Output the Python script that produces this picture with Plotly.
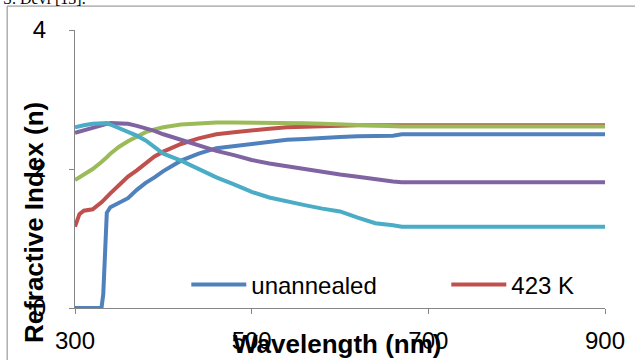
import plotly.graph_objects as go

wavelength = [300, 305, 310, 320, 330, 332, 336, 340, 350, 360, 370, 380, 390, 400,
              420, 440, 460, 480, 500, 520, 540, 560, 580, 600, 620, 640, 660, 670,
              700, 750, 800, 850, 900]

unannealed = [0, 0, 0, 0, 0, 0.2, 1.37, 1.45, 1.52, 1.58, 1.7, 1.8, 1.88, 1.97,
              2.12, 2.22, 2.3, 2.33, 2.37, 2.4, 2.42, 2.43, 2.45, 2.46, 2.47, 2.47, 2.48, 2.5,
              2.5, 2.5, 2.5, 2.5, 2.5]
k423 = [1.17, 1.35, 1.4, 1.42, 1.52, 1.55, 1.6, 1.65, 1.77, 1.89, 1.98, 2.08, 2.18, 2.25,
        2.36, 2.44, 2.5, 2.53, 2.56, 2.58, 2.6, 2.61, 2.62, 2.62, 2.63, 2.63, 2.63, 2.63,
        2.63, 2.63, 2.63, 2.63, 2.63]
k473 = [1.84, 1.88, 1.92, 2.0, 2.1, 2.12, 2.17, 2.22, 2.32, 2.4, 2.47, 2.53, 2.57, 2.6,
        2.64, 2.66, 2.67, 2.67, 2.67, 2.67, 2.66, 2.66, 2.65, 2.64, 2.63, 2.62, 2.61, 2.61,
        2.61, 2.61, 2.61, 2.61, 2.61]
k523 = [2.52, 2.54, 2.56, 2.6, 2.64, 2.64, 2.65, 2.66, 2.66, 2.65, 2.62, 2.59, 2.55, 2.5,
        2.42, 2.33, 2.26, 2.2, 2.13, 2.08, 2.04, 1.99, 1.95, 1.92, 1.89, 1.85, 1.82, 1.81,
        1.81, 1.81, 1.81, 1.81, 1.81]
k573 = [2.6, 2.62, 2.63, 2.65, 2.66, 2.66, 2.66, 2.64, 2.59, 2.54, 2.48, 2.41, 2.31, 2.22,
        2.12, 2.0, 1.88, 1.78, 1.67, 1.59, 1.53, 1.48, 1.43, 1.39, 1.3, 1.22, 1.19, 1.17,
        1.17, 1.17, 1.17, 1.17, 1.17]

series = [
    ("unannealed", unannealed, "#4F81BD", True),
    ("423 K", k423, "#C0504D", True),
    ("473 K", k473, "#9BBB59", False),
    ("523 K", k523, "#8064A2", False),
    ("573 K", k573, "#4BACC6", False),
]

x_ticks = [300, 500, 700, 900]
y_ticks = [0, 2, 4]

FONT = "Liberation Sans"
AXC = "#868686"

fig = go.Figure()
for name, vals, color, show in series:
    fig.add_trace(go.Scatter(x=wavelength, y=vals, name=name, mode="lines",
                             line=dict(color=color, width=4), showlegend=show))

fig.update_layout(
    width=635, height=360,
    margin=dict(l=75, r=30, t=30, b=52, autoexpand=False),
    paper_bgcolor="white", plot_bgcolor="white",
    font=dict(family=FONT, size=24, color="black"),
    showlegend=True,
    legend=dict(orientation="h", x=0.21, y=0.083, xanchor="left", yanchor="middle",
                bgcolor="rgba(0,0,0,0)", font=dict(size=24, family=FONT),
                itemwidth=55, entrywidth=190, entrywidthmode="pixels"),
    xaxis=dict(range=[300, 900], tickvals=x_ticks, showline=True, linecolor=AXC,
               linewidth=1, ticks="outside", ticklen=5, tickcolor=AXC, showgrid=False,
               zeroline=False, ticklabelstandoff=6, tickfont=dict(size=24),
               automargin=False),
    yaxis=dict(range=[0, 4], tickvals=y_ticks, showline=True, linecolor=AXC,
               linewidth=1, ticks="outside", ticklen=5, tickcolor=AXC, showgrid=False,
               zeroline=False, ticklabelstandoff=18, tickfont=dict(size=24),
               automargin=False),
    annotations=[
        dict(text="<b>Wavelength (nm)</b>", xref="paper", yref="paper", x=0.494, y=-0.13,
             xanchor="center", yanchor="middle", showarrow=False, font=dict(size=26)),
        dict(text="<b>Refractive Index (n)</b>", xref="paper", yref="paper", x=-0.077,
             y=0.306, xanchor="center", yanchor="middle", textangle=-90, showarrow=False,
             font=dict(size=26)),
        dict(text="S. Devi [13].", xref="paper", yref="paper", x=-0.14, y=1.115,
             xanchor="left", yanchor="middle", showarrow=False,
             font=dict(size=16, family="Liberation Serif")),
    ],
    shapes=[dict(type="rect", xref="paper", yref="paper", x0=-0.128, x1=1.2,
                 y0=-0.3, y1=1.086, line=dict(color="#888888", width=1))],
)

fig.write_html("out.html", config={"displayModeBar": False},
               post_script="document.body.style.margin='0px';")
